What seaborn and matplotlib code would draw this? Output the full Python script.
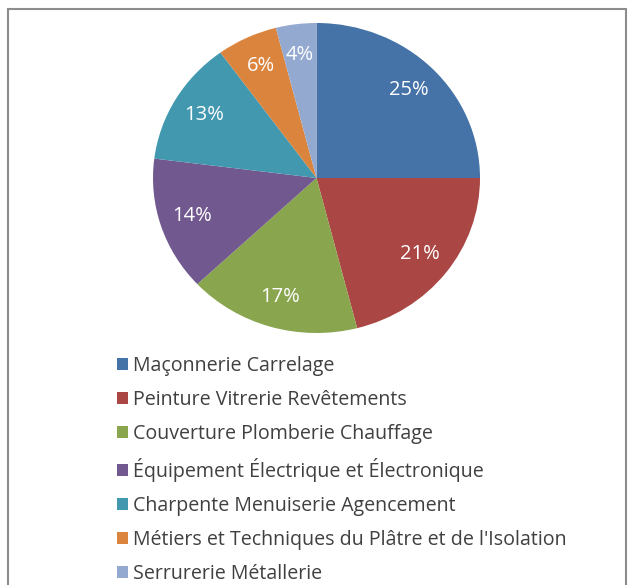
import matplotlib
matplotlib.use("Agg")
import matplotlib.pyplot as plt
import seaborn as sns
from matplotlib.patches import Rectangle

# Données
categories = [
    "Maçonnerie Carrelage",
    "Peinture Vitrerie Revêtements",
    "Couverture Plomberie Chauffage",
    "Équipement Électrique et Électronique",
    "Charpente Menuiserie Agencement",
    "Métiers et Techniques du Plâtre et de l'Isolation",
    "Serrurerie Métallerie",
]
parts = [25, 21, 17, 14, 13, 6, 4]
couleurs = ["#4572A7", "#AA4643", "#89A54E", "#71588F", "#4198AF", "#DB843D", "#93A9CF"]

sns.set_theme(style="white")
plt.rcParams["font.family"] = ["Open Sans", "DejaVu Sans"]

fig = plt.figure(figsize=(6.33, 5.85), dpi=100)
ax = fig.add_axes([153 / 633, 1 - 333 / 585, 327 / 633, 310 / 585])

wedges, _, autotexts = ax.pie(
    parts,
    colors=couleurs,
    startangle=90,
    counterclock=False,
    autopct="%d%%",
    pctdistance=0.8,
    wedgeprops=dict(linewidth=0),
    textprops=dict(color="white", fontsize=14.5),
)
ax.set_aspect("auto")
ax.set_xlim(-1, 1)
ax.set_ylim(-1, 1)

#Legende
fig.legend(
    wedges, categories,
    loc="upper left", bbox_to_anchor=(99 / 633, 1 - 338 / 585),
    frameon=False, fontsize=14.1,
    handlelength=0.56, handleheight=0.56, handletextpad=0.3,
    labelspacing=0.72, labelcolor="#404040",
)

# cadre gris
fig.patches.append(Rectangle((8 / 633, -0.1), 618 / 633, 1.1 - 9 / 585,
                             transform=fig.transFigure, fill=False,
                             edgecolor="#8c8c8c", linewidth=1.5))

fig.savefig("out.png", dpi=100)
